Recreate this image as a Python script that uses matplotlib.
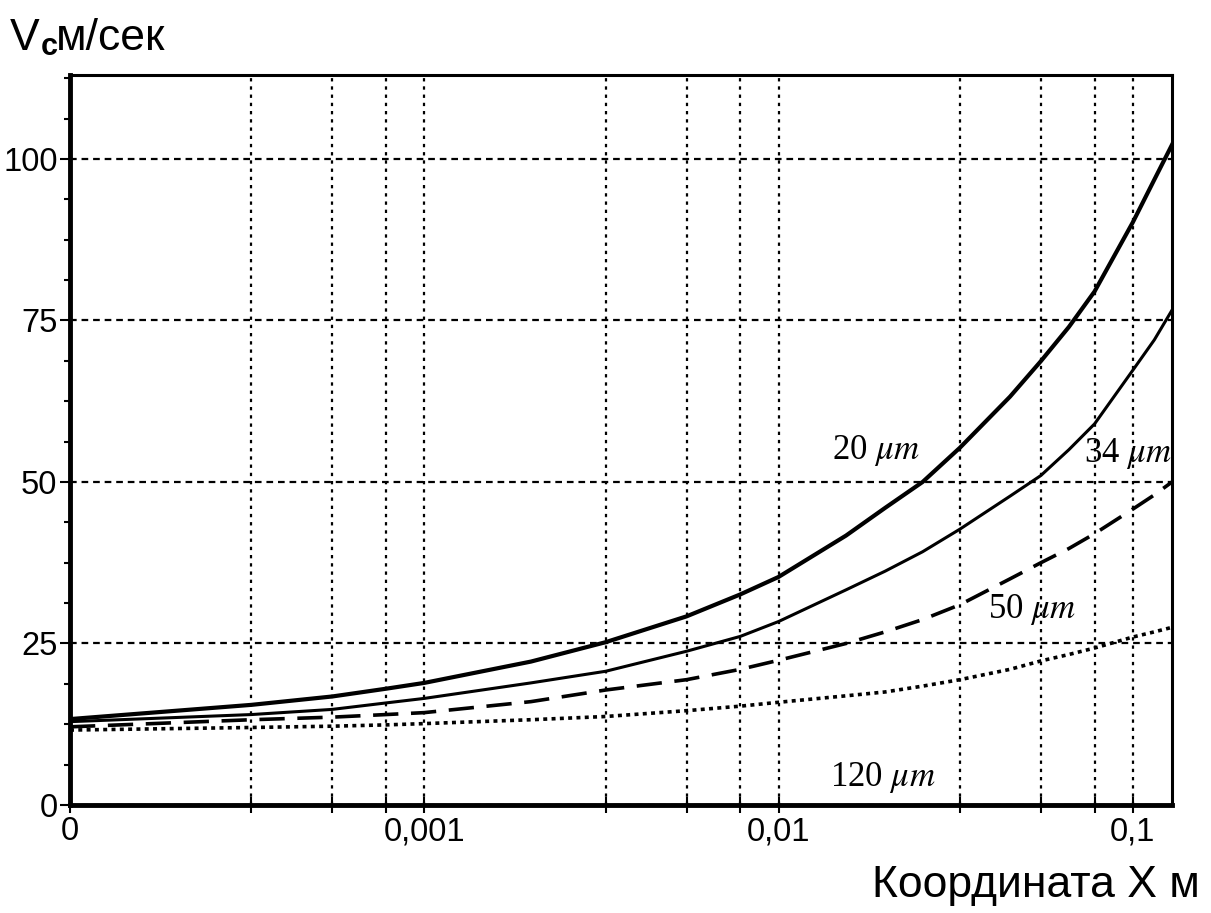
import matplotlib
matplotlib.use('Agg')
import matplotlib.pyplot as plt
from matplotlib.ticker import FixedLocator, NullFormatter

# x positions (m), speeds in m/s
x = [1e-4, 3.25e-4, 5.5e-4, 7.8e-4, 1e-3, 2e-3, 3.25e-3, 5.5e-3, 7.8e-3, 1e-2,
     1.55e-2, 2e-2, 2.55e-2, 3.25e-2, 4.5e-2, 5.5e-2, 6.6e-2, 7.8e-2, 0.1, 0.115, 0.129]
v20 = [13.3, 15.5, 16.8, 18.0, 18.9, 22.2, 25.2, 29.2, 32.6, 35.3,
       41.7, 46.0, 50.0, 55.3, 63.2, 68.7, 74.0, 79.5, 90.2, 96.8, 102.2]
v34 = [12.9, 14.0, 14.8, 15.8, 16.5, 18.9, 20.7, 23.8, 26.1, 28.4,
       33.3, 36.2, 39.2, 42.7, 47.8, 51.0, 55.0, 59.0, 67.3, 72.0, 76.6]
v50 = [12.1, 13.2, 13.6, 14.0, 14.3, 16.0, 17.8, 19.4, 21.0, 22.4,
       25.0, 26.8, 28.7, 31.0, 35.0, 37.5, 39.7, 42.0, 45.8, 48.0, 50.0]
v120 = [11.6, 12.0, 12.2, 12.4, 12.6, 13.2, 13.7, 14.6, 15.3, 15.9,
        16.9, 17.5, 18.4, 19.4, 21.0, 22.3, 23.3, 24.3, 26.0, 26.8, 27.5]

xmajor = [1e-4, 1e-3, 1e-2, 1e-1]
xmajor_labels = ['0', '0,001', '0,01', '0,1']
xminor = [3.25e-4, 5.5e-4, 7.8e-4, 3.25e-3, 5.5e-3, 7.8e-3, 3.25e-2, 5.5e-2, 7.8e-2]
ymajor = [0, 25, 50, 75, 100]

plt.rcParams['font.family'] = ['Liberation Sans', 'DejaVu Sans']
plt.rcParams['mathtext.fontset'] = 'stix'

fig = plt.figure(figsize=(12.11, 9.13), dpi=100)
ax = fig.add_axes([70 / 1211, 108 / 913, 1102 / 1211, 730 / 913])

ax.plot(x, v20, color='black', lw=3.0)
ax.plot(x, v34, color='black', lw=2.2)
ax.plot(x, v50, color='black', lw=2.6, dashes=(7, 3.5))
ax.plot(x, v120, color='black', lw=2.6, dashes=(1.1, 1.2))

ax.set_xscale('log')
ax.set_xlim(1e-4, 0.129)
ax.set_ylim(0, 113)

ax.xaxis.set_major_locator(FixedLocator(xmajor))
ax.xaxis.set_minor_locator(FixedLocator(xminor))
ax.xaxis.set_minor_formatter(NullFormatter())
ax.set_xticklabels(xmajor_labels)
ax.set_yticks(ymajor)
ax.yaxis.set_minor_locator(FixedLocator([i * 6.25 for i in range(19)]))

ax.grid(True, which='both', axis='x', color='black', lw=1.6, dashes=(1.5, 2.2))
ax.grid(True, which='major', axis='y', color='black', lw=1.6, dashes=(3, 2.2))

ax.tick_params(axis='x', which='both', direction='inout', length=12, width=1.5,
               labelsize=23.5, pad=2)
ax.tick_params(axis='y', which='major', direction='out', length=7, width=1.5,
               labelsize=23.5, pad=2)
ax.tick_params(axis='y', which='minor', direction='out', length=4, width=1.5)

for side in ['left', 'bottom']:
    ax.spines[side].set_linewidth(3.5)
for side in ['top', 'right']:
    ax.spines[side].set_linewidth(2.2)

lab = dict(fontsize=25, family=['Liberation Serif', 'DejaVu Serif'],
           ha='center', va='center')
ax.text(0.0188, 54.8, r'20 $\mu m$', **lab)
ax.text(0.0968, 54.4, r'34 $\mu m$', **lab)
ax.text(0.0518, 30.3, r'50 $\mu m$', **lab)
ax.text(0.0197, 4.2, r'120 $\mu m$', **lab)

fig.text(10 / 1211, 1 - 38 / 913, 'V', fontsize=32, ha='left', va='center')
fig.text(41 / 1211, 1 - 47 / 913, 'c', fontsize=22, fontweight='bold',
         ha='left', va='center')
fig.text(56 / 1211, 1 - 38 / 913, 'м/сек', fontsize=32, ha='left', va='center')
fig.text(1200 / 1211, 1 - 885 / 913, 'Координата X м', fontsize=32,
         ha='right', va='center')

fig.savefig('out.png', dpi=100)
